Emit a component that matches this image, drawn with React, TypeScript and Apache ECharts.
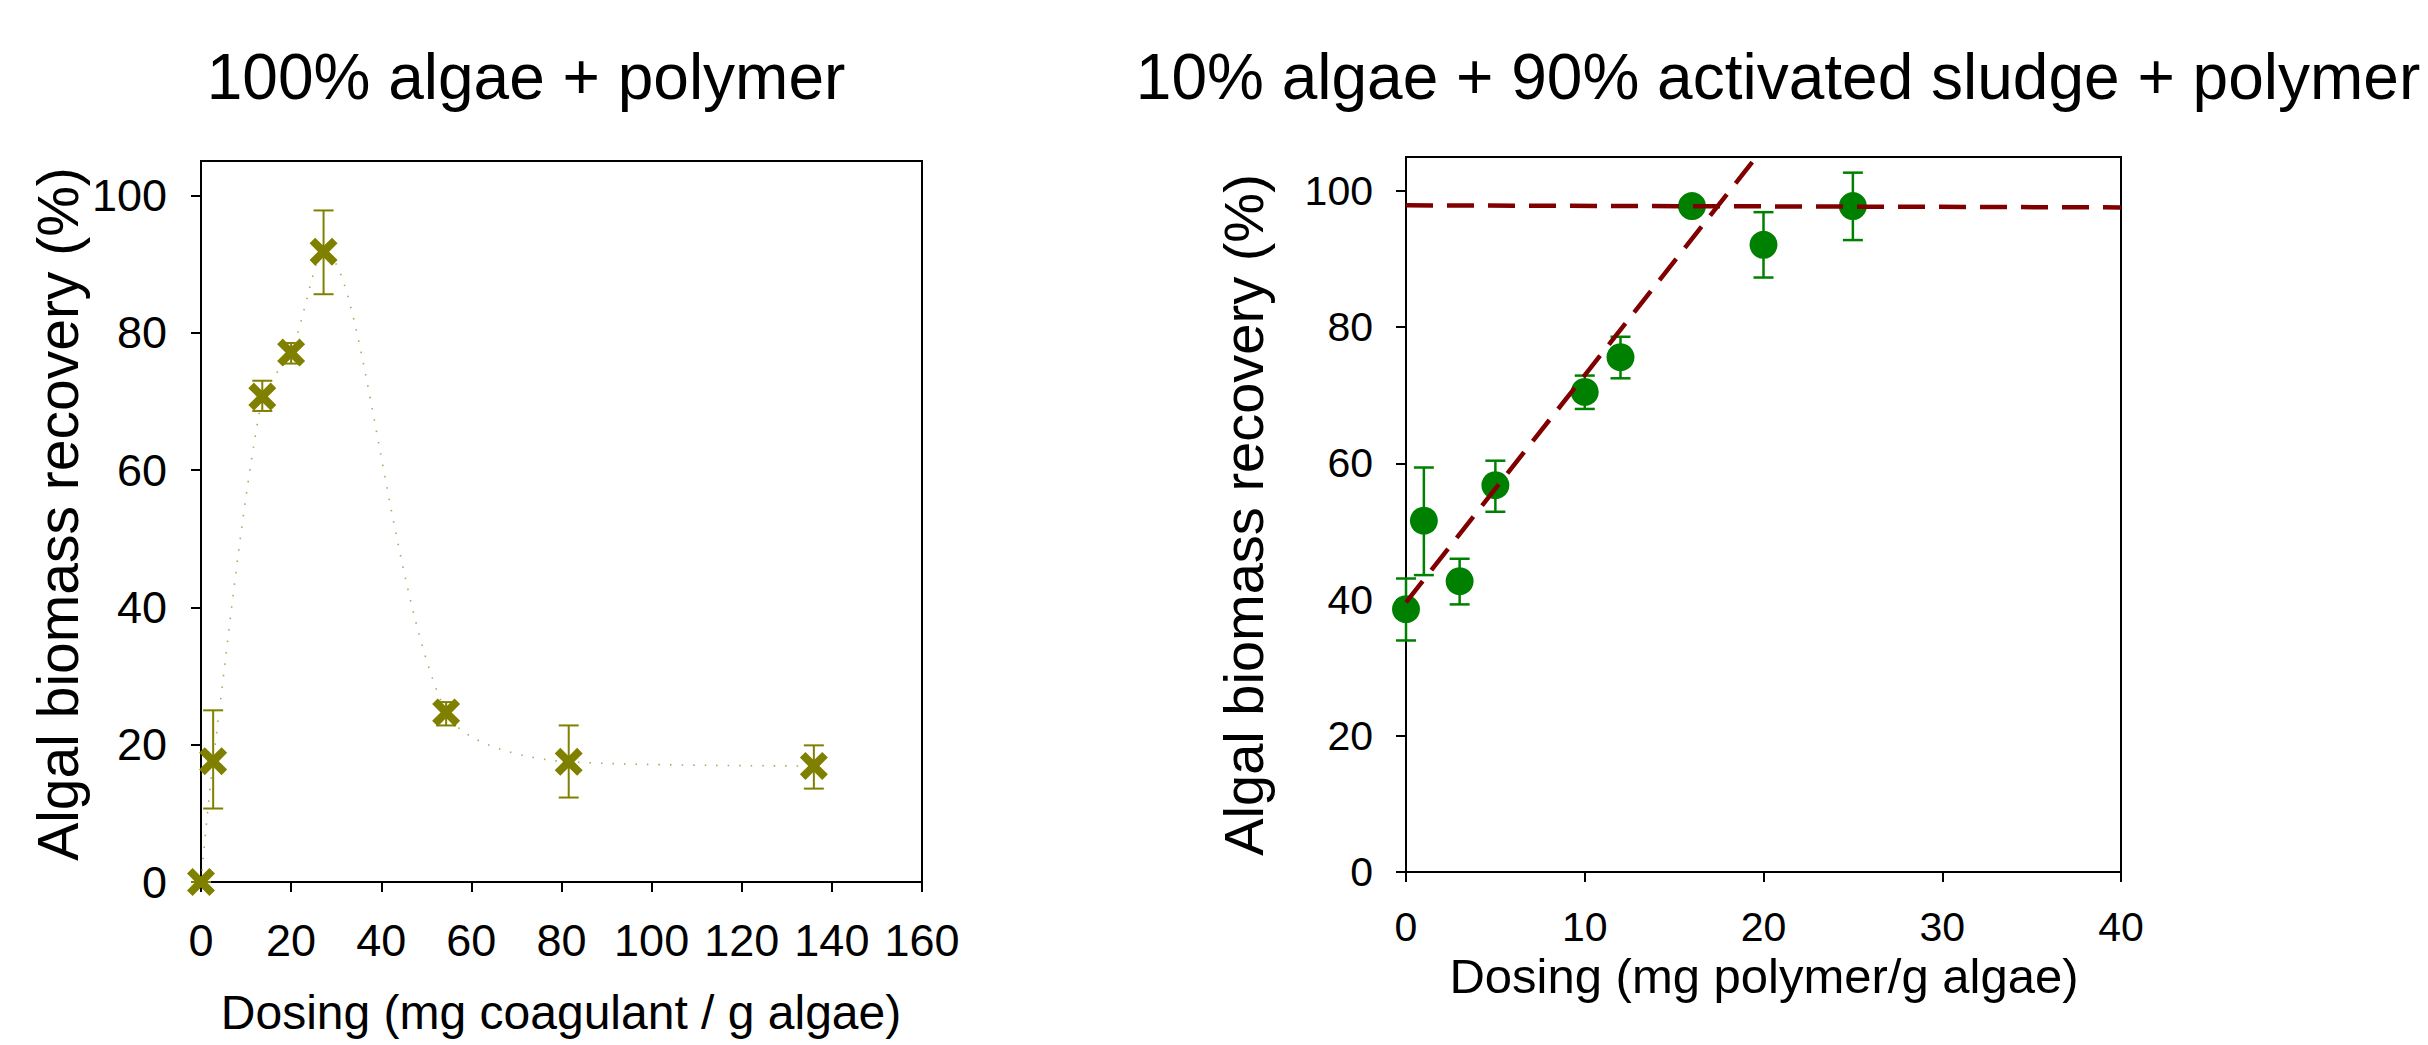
import React, { useEffect, useRef } from "react";
import * as echarts from "echarts";

// ---- Left panel: 100% algae + polymer ----
const leftDose = [0, 2.7, 13.6, 20, 27.2, 54.4, 81.6, 136];
const leftRecovery = [0, 17.6, 70.7, 77.1, 91.8, 24.7, 17.5, 16.9];
const leftErrLow = [0, 10.7, 68.6, 75.5, 85.6, 22.8, 12.3, 13.6];
const leftErrHigh = [0, 25.0, 73.0, 78.5, 97.8, 26.2, 22.8, 19.9];
const leftXTicks = [0, 20, 40, 60, 80, 100, 120, 140, 160];
const leftYTicks = [0, 20, 40, 60, 80, 100];

// ---- Right panel: 10% algae + 90% activated sludge + polymer ----
const rightDose = [0, 1, 3, 5, 10, 12, 16, 20, 25];
const rightRecovery = [38.6, 51.6, 42.7, 56.8, 70.5, 75.6, 97.8, 92.1, 97.8];
const rightErrLow = [34.0, 43.6, 39.3, 52.9, 68.0, 72.5, 97.8, 87.3, 92.8];
const rightErrHigh = [43.1, 59.4, 46.0, 60.4, 72.9, 78.6, 97.8, 96.9, 102.7];
const riseLineX = [0, 19.6];
const riseLineY = [39.6, 105];
const plateauLineX = [0, 40];
const plateauLineY = [97.9, 97.6];
const rightXTicks = [0, 10, 20, 30, 40];
const rightYTicks = [0, 20, 40, 60, 80, 100];

const titles = ["100% algae + polymer", "10% algae + 90% activated sludge + polymer"];
const xTitles = ["Dosing (mg coagulant / g algae)", "Dosing (mg polymer/g algae)"];
const yTitle = "Algal biomass recovery (%)";

const FONT = "'Liberation Sans', Arial, Helvetica, sans-serif";
const OLIVE = "#808000";
const GREEN = "#008000";
const DARKRED = "#800000";
const X_SYMBOL =
  "path://M0,20L20,0L50,30L80,0L100,20L70,50L100,80L80,100L50,70L20,100L0,80L30,50Z";

function errorBarSeries(
  xs: number[],
  lo: number[],
  hi: number[],
  color: string,
  width: number,
  idx: number
) {
  return {
    type: "custom",
    xAxisIndex: idx,
    yAxisIndex: idx,
    z: 2,
    silent: true,
    data: xs.map((x, i) => [x, lo[i], hi[i]]),
    encode: { x: 0, y: [1, 2] },
    renderItem: (_params: any, api: any) => {
      const x = api.value(0);
      const pLo = api.coord([x, api.value(1)]);
      const pHi = api.coord([x, api.value(2)]);
      const hw = 10;
      const style = { stroke: color, lineWidth: width };
      return {
        type: "group",
        children: [
          { type: "line", shape: { x1: pLo[0], y1: pLo[1], x2: pHi[0], y2: pHi[1] }, style },
          { type: "line", shape: { x1: pLo[0] - hw, y1: pLo[1], x2: pLo[0] + hw, y2: pLo[1] }, style },
          { type: "line", shape: { x1: pHi[0] - hw, y1: pHi[1], x2: pHi[0] + hw, y2: pHi[1] }, style },
        ],
      };
    },
  };
}

function valueAxis(
  idx: number,
  min: number,
  max: number,
  interval: number,
  ticks: number[],
  fontSize: number,
  margin: number
) {
  return {
    type: "value",
    gridIndex: idx,
    min,
    max,
    interval,
    splitLine: { show: false },
    axisLine: { show: true, onZero: false, lineStyle: { color: "#000", width: 2 } },
    axisTick: {
      show: true,
      length: 10,
      inside: false,
      customValues: ticks,
      lineStyle: { color: "#000", width: 2 },
    },
    axisLabel: {
      show: true,
      customValues: ticks,
      showMaxLabel: true,
      margin,
      color: "#000",
      fontSize,
      fontFamily: FONT,
      formatter: (v: number) => (ticks.indexOf(v) >= 0 ? String(v) : ""),
    },
  };
}

export default function App() {
  const ref = useRef<HTMLDivElement>(null);

  useEffect(() => {
    if (!ref.current) return;
    const chart = echarts.init(ref.current, undefined, { renderer: "svg" });

    const textStyle = (size: number) => ({
      fill: "#000",
      fontSize: size,
      fontFamily: FONT,
      align: "center",
      verticalAlign: "middle",
    });

    const option: any = {
      animation: false,
      backgroundColor: "#fff",
      grid: [
        {
          left: 201,
          top: 161,
          width: 721,
          height: 721,
          show: true,
          borderColor: "#000",
          borderWidth: 2,
          containLabel: false,
        },
        {
          left: 1406,
          top: 157,
          width: 715,
          height: 715,
          show: true,
          borderColor: "#000",
          borderWidth: 2,
          containLabel: false,
        },
      ],
      xAxis: [
        valueAxis(0, 0, 160, 20, leftXTicks, 45, 36),
        valueAxis(1, 0, 40, 10, rightXTicks, 41, 34),
      ],
      yAxis: [
        valueAxis(0, 0, 105, 20, leftYTicks, 45, 34),
        valueAxis(1, 0, 105, 20, rightYTicks, 41, 33),
      ],
      graphic: [
        { type: "text", x: 526, y: 77, style: { ...textStyle(64), text: titles[0] } },
        { type: "text", x: 1778, y: 77, style: { ...textStyle(64), text: titles[1] } },
        { type: "text", x: 561, y: 1012, style: { ...textStyle(48), text: xTitles[0] } },
        { type: "text", x: 1764, y: 976, style: { ...textStyle(49), text: xTitles[1] } },
        {
          type: "text",
          x: 58,
          y: 514,
          rotation: Math.PI / 2,
          style: { ...textStyle(57), text: yTitle },
        },
        {
          type: "text",
          x: 1243,
          y: 515,
          rotation: Math.PI / 2,
          style: { ...textStyle(56), text: yTitle },
        },
      ],
      series: [
        errorBarSeries(leftDose, leftErrLow, leftErrHigh, OLIVE, 2, 0),
        {
          type: "line",
          xAxisIndex: 0,
          yAxisIndex: 0,
          z: 3,
          smooth: 0.3,
          data: leftDose.map((x, i) => [x, leftRecovery[i]]),
          symbol: X_SYMBOL,
          symbolSize: 28,
          itemStyle: { color: OLIVE },
          lineStyle: { color: "#9a9a3a", width: 1.6, type: [1.5, 10], opacity: 0.85 },
        },
        errorBarSeries(rightDose, rightErrLow, rightErrHigh, GREEN, 2.5, 1),
        {
          type: "scatter",
          xAxisIndex: 1,
          yAxisIndex: 1,
          z: 3,
          data: rightDose.map((x, i) => [x, rightRecovery[i]]),
          symbol: "circle",
          symbolSize: 28,
          itemStyle: { color: GREEN, opacity: 1 },
        },
        {
          type: "line",
          xAxisIndex: 1,
          yAxisIndex: 1,
          z: 5,
          symbol: "none",
          data: riseLineX.map((x, i) => [x, riseLineY[i]]),
          lineStyle: { color: DARKRED, width: 4.5, type: [27, 14] },
        },
        {
          type: "line",
          xAxisIndex: 1,
          yAxisIndex: 1,
          z: 5,
          symbol: "none",
          data: plateauLineX.map((x, i) => [x, plateauLineY[i]]),
          lineStyle: { color: DARKRED, width: 4.5, type: [27, 14] },
        },
      ],
    };

    chart.setOption(option);
    return () => chart.dispose();
  }, []);

  return (
    <div
      ref={ref}
      style={{ position: "fixed", left: 0, top: 0, width: 2428, height: 1045, background: "#fff" }}
    />
  );
}
